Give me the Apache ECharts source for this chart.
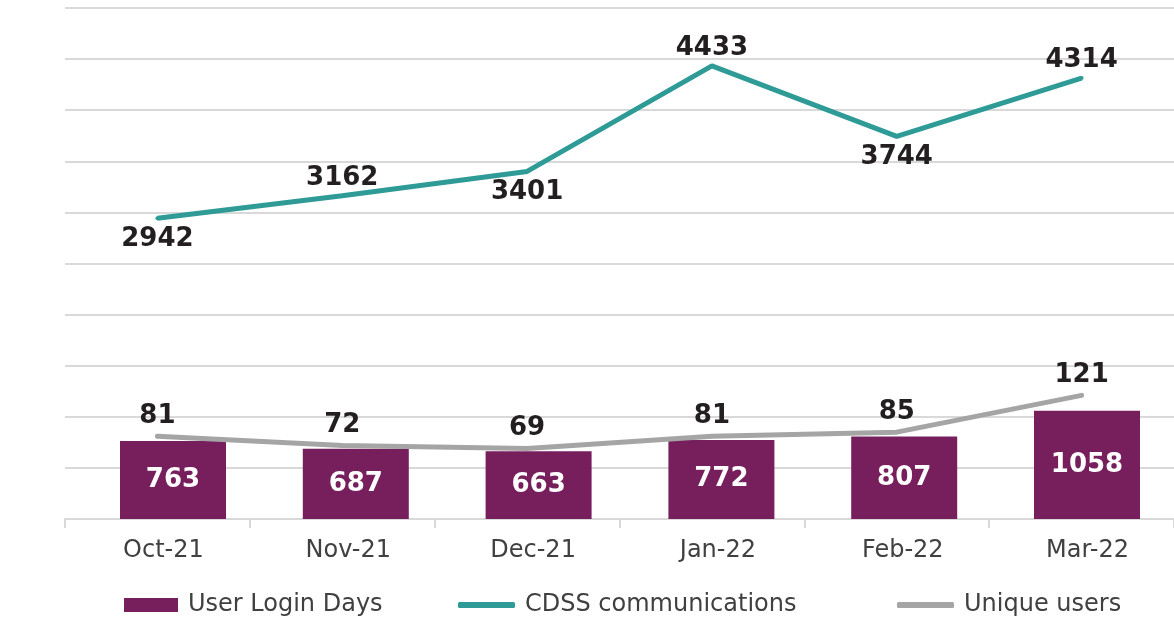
<!DOCTYPE html>
<html>
<head>
<meta charset="utf-8">
<script src="https://cdn.jsdelivr.net/npm/echarts@6/dist/echarts.min.js"></script>
<style>
  html, body { margin: 0; padding: 0; background: #fff; }
  #chart { width: 1174px; height: 618px; }
</style>
</head>
<body>
<div id="chart"></div>
<script>
// data
const months = ["Oct-21", "Nov-21", "Dec-21", "Jan-22", "Feb-22", "Mar-22"];
const loginDays = [763, 687, 663, 772, 807, 1058];
const cdssComms = [2942, 3162, 3401, 4433, 3744, 4314];
const uniqueUsers = [81, 72, 69, 81, 85, 121];

const chart = echarts.init(document.getElementById("chart"));

const dark = "#231F20";
const font = "DejaVu Sans";
const gridColor = "#D9D9D9";

const legendText = { fontSize: 24, color: "#404040", padding: [0, 0, 0, 5] };

const option = {
    animation: false,
    textStyle: { fontFamily: font },
    grid: [
        // lines + axis
        { left: 65, top: 8, width: 1110, height: 511 },
        // bars sit on their own slightly shifted band (as in the original),
        // first and last bar centred on the grid edges
        { left: 173, top: 8, width: 914, height: 511 }
    ],
    legend: [
        {
            data: ["User Login Days"],
            left: 119, top: 588,
            icon: "rect", itemWidth: 54, itemHeight: 14,
            textStyle: legendText
        },
        {
            data: ["CDSS communications"],
            left: 453, top: 588,
            icon: "roundRect", itemWidth: 57, itemHeight: 6,
            textStyle: legendText
        },
        {
            data: ["Unique users"],
            left: 892, top: 588,
            icon: "roundRect", itemWidth: 57, itemHeight: 6,
            textStyle: legendText
        }
    ],
    xAxis: [
        {
            type: "category",
            gridIndex: 0,
            data: months,
            axisLine: { lineStyle: { color: gridColor, width: 2 } },
            axisTick: { show: true, length: 9, lineStyle: { color: gridColor, width: 2 } },
            axisLabel: { fontSize: 24, color: "#404040", margin: 20, padding: [0, 0, 0, 12] }
        },
        {
            type: "category",
            gridIndex: 1,
            data: months,
            boundaryGap: false,
            show: false
        }
    ],
    yAxis: [
        {
            type: "value", gridIndex: 0, min: 0, max: 5000, interval: 500,
            axisLabel: { show: false },
            axisLine: { show: false }, axisTick: { show: false },
            splitLine: { lineStyle: { color: gridColor, width: 2 } }
        },
        {
            type: "value", gridIndex: 0, min: 0, max: 500, interval: 50,
            show: false,
            splitLine: { show: false }
        },
        {
            type: "value", gridIndex: 1, min: 0, max: 5000, interval: 500,
            show: false,
            splitLine: { show: false }
        }
    ],
    series: [
        {
            name: "User Login Days",
            type: "bar",
            xAxisIndex: 1,
            yAxisIndex: 2,
            data: loginDays,
            barWidth: 106,
            itemStyle: { color: "#771F5D" },
            label: {
                show: true, position: "inside",
                color: "#fff", fontSize: 26, fontWeight: "bold", fontFamily: font
            }
        },
        {
            name: "CDSS communications",
            type: "line",
            data: cdssComms.map((v, i) => ({
                value: v,
                label: i % 2 ? { position: "top", distance: 3 } : { position: "bottom", distance: 6 }
            })),
            symbol: "circle", symbolSize: 4,
            lineStyle: { color: "#2E9B96", width: 5 },
            itemStyle: { color: "#2E9B96" },
            label: {
                show: true,
                color: dark, fontSize: 26, fontWeight: "bold", fontFamily: font
            },
            z: 3
        },
        {
            name: "Unique users",
            type: "line",
            yAxisIndex: 1,
            data: uniqueUsers,
            symbol: "circle", symbolSize: 4,
            lineStyle: { color: "#A5A5A5", width: 5, cap: "round" },
            itemStyle: { color: "#A5A5A5" },
            label: {
                show: true, position: "top", distance: 5,
                color: dark, fontSize: 26, fontWeight: "bold", fontFamily: font
            },
            z: 3
        }
    ]
};

chart.setOption(option);
window.addEventListener("resize", () => chart.resize());
</script>
</body>
</html>
